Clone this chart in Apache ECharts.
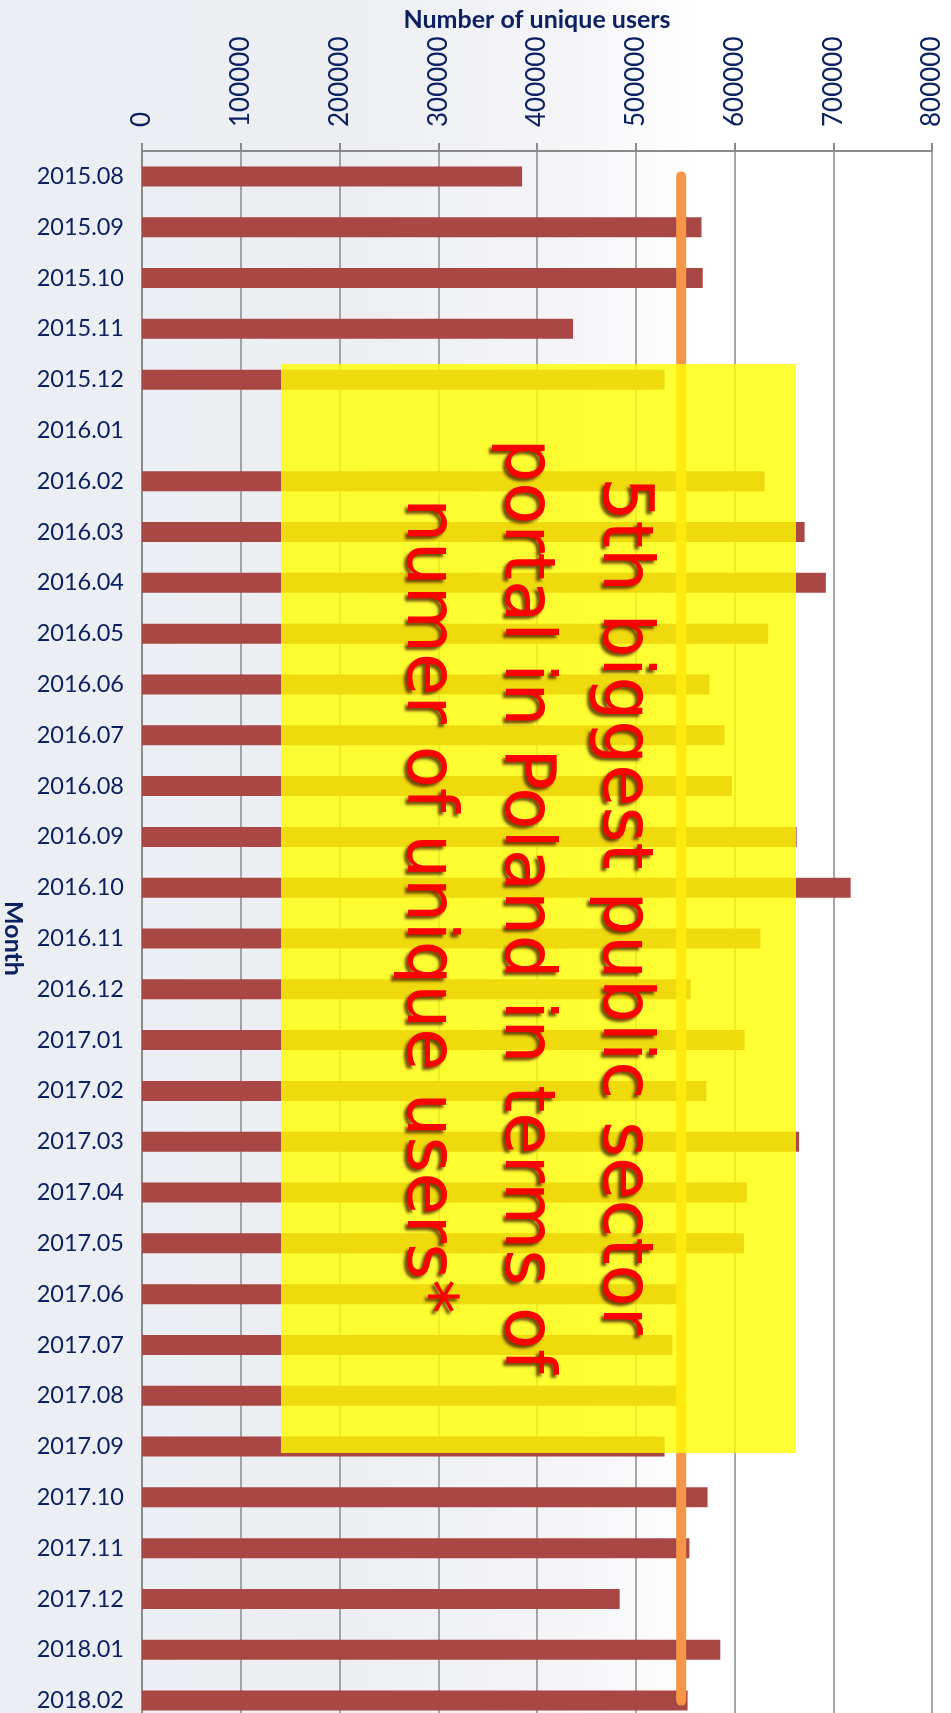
<!DOCTYPE html>
<html>
<head>
<meta charset="utf-8">
<script src="https://cdn.jsdelivr.net/npm/echarts@6/dist/echarts.min.js"></script>
<style>
  html, body { margin: 0; padding: 0; }
  #chart { width: 951px; height: 1713px; }
</style>
</head>
<body>
<div id="chart"></div>
<script>
const months = [
  '2015.08', '2015.09', '2015.10', '2015.11', '2015.12',
  '2016.01', '2016.02', '2016.03', '2016.04', '2016.05', '2016.06',
  '2016.07', '2016.08', '2016.09', '2016.10', '2016.11', '2016.12',
  '2017.01', '2017.02', '2017.03', '2017.04', '2017.05', '2017.06',
  '2017.07', '2017.08', '2017.09', '2017.10', '2017.11', '2017.12',
  '2018.01', '2018.02'
];
const users = [
  384900, 566600, 567800, 436500, 529200,
  null, 630500, 671000, 692500, 634100, 574600,
  589900, 597300, 663000, 717600, 626200, 555600,
  610200, 571500, 665400, 612600, 609600, 545000,
  537100, 544000, 529200, 572700, 554300, 483700,
  585600, 552500
];
const valueTicks = [0, 100000, 200000, 300000, 400000, 500000, 600000, 700000, 800000];
const refLevel = 546000;
const noteLines = ['5th biggest public sector', 'portal in Poland in terms of', 'numer of unique users*'];

const NAVY = '#0b2161';
const GRAY = '#8a8a8a';

const chart = echarts.init(document.getElementById('chart'));

chart.setOption({
  animation: false,
  backgroundColor: {
    type: 'linear', x: 0, y: 0, x2: 1, y2: 0,
    colorStops: [
      { offset: 0, color: '#ebeff3' },
      { offset: 0.35, color: '#eceef2' },
      { offset: 0.6, color: '#f5f5f8' },
      { offset: 0.74, color: '#ffffff' },
      { offset: 1, color: '#ffffff' }
    ]
  },
  grid: { left: 142, right: 19, top: 151, height: 1575, outerBoundsMode: 'none' },
  xAxis: {
    type: 'value', position: 'top',
    min: valueTicks[0], max: valueTicks[valueTicks.length - 1],
    interval: valueTicks[1] - valueTicks[0],
    name: 'Number of unique users', nameLocation: 'middle', nameGap: 119,
    nameMoveOverlap: false,
    nameTextStyle: { fontFamily: 'Lato', fontWeight: 'bold', fontSize: 25, color: NAVY },
    axisLine: { show: true, lineStyle: { color: GRAY, width: 2 } },
    axisTick: { show: true, length: 8, lineStyle: { color: GRAY, width: 2 } },
    axisLabel: {
      fontFamily: 'Lato', fontSize: 26, color: NAVY,
      rotate: -90, margin: 24, formatter: v => String(v)
    },
    splitLine: { lineStyle: { color: GRAY, width: 1.5 } }
  },
  yAxis: {
    type: 'category', inverse: true, data: months,
    name: 'Month', nameLocation: 'middle', nameGap: 116, nameRotate: -90,
    nameTextStyle: { fontFamily: 'Lato', fontWeight: 'bold', fontSize: 25, color: NAVY },
    axisLine: { lineStyle: { color: GRAY, width: 2 } },
    axisTick: { length: 8, lineStyle: { color: GRAY, width: 2 } },
    axisLabel: { fontFamily: 'Lato', fontSize: 23.5, color: NAVY, margin: 18 },
    splitLine: { show: false }
  },
  series: [
    {
      type: 'bar', data: users, barWidth: 20,
      itemStyle: { color: '#a94744' }
    },
    {
      type: 'line', data: [[refLevel, 0], [refLevel, months.length - 1]],
      symbol: 'none', silent: true, z: 5,
      lineStyle: { color: '#f79646', width: 10, cap: 'round' }
    }
  ],
  graphic: [
    {
      type: 'rect', z: 100, silent: true,
      shape: { x: 281, y: 364, width: 515, height: 1089 },
      style: { fill: 'rgba(255,255,0,0.8)' }
    },
    {
      type: 'text', z: 101, silent: true,
      x: 524, y: 906, rotation: -Math.PI / 2,
      style: {
        text: noteLines.join('\n'),
        font: '69px "DejaVu Sans"', lineHeight: 98,
        fill: '#ff0000', align: 'center', verticalAlign: 'middle',
        textShadowColor: 'rgba(70,20,0,0.75)', textShadowBlur: 3,
        textShadowOffsetX: -3, textShadowOffsetY: 3
      }
    }
  ]
});
</script>
</body>
</html>
